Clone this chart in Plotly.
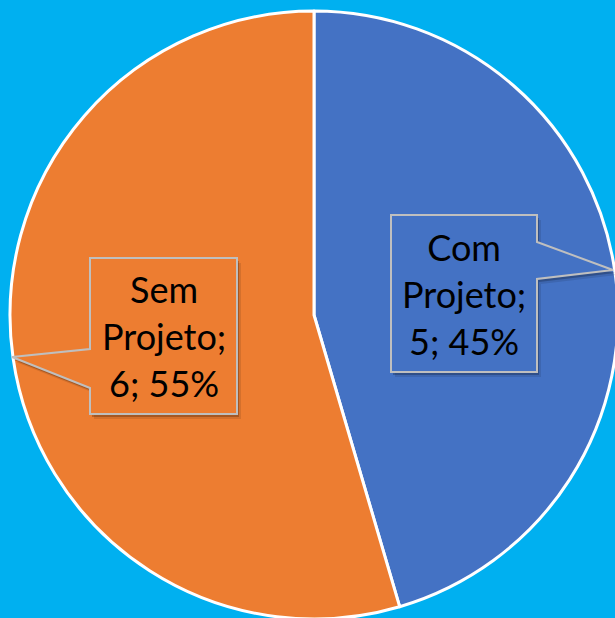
import plotly.graph_objects as go

labels = ["Com Projeto", "Sem Projeto"]
values = [5, 6]
colors = ["#4472C4", "#ED7D31"]
bg = "#00B0F0"

# figure is a little larger than the 615x618 window so the pie can run off the edges
W, H = 628, 630
CX, CY, R = 314, 315, 304  # pie centre / radius in window pixels
total = sum(values)
pcts = [round(v / total * 100) for v in values]

fig = go.Figure(go.Pie(
    labels=labels, values=values, sort=False, direction="clockwise", rotation=0,
    marker=dict(colors=colors, line=dict(color="white", width=3)),
    textinfo="none", hoverinfo="label+value+percent", showlegend=False,
    domain=dict(x=[(CX - R) / W, (CX + R) / W], y=[1 - (CY + R) / H, 1 - (CY - R) / H]),
))

def px(x, y):
    return x / W, 1 - y / H

def callout(box, tip_pts, fill):
    x0, y0, x1, y1 = box
    side, a, b, tip = tip_pts
    if side == "right":
        pts = [(x0, y0), (x1, y0), (x1, a), tip, (x1, b), (x1, y1), (x0, y1)]
    else:
        pts = [(x0, y0), (x1, y0), (x1, y1), (x0, y1), (x0, b), tip, (x0, a)]
    def path(dx=0, dy=0):
        s = ""
        for i, (x, y) in enumerate(pts):
            X, Y = px(x + dx, y + dy)
            s += ("M" if i == 0 else "L") + f"{X:.5f},{Y:.5f} "
        return s + "Z"
    fig.add_shape(type="path", path=path(4, 5), xref="paper", yref="paper",
                  fillcolor="rgba(0,0,0,0.10)", line=dict(width=0), layer="above")
    fig.add_shape(type="path", path=path(2, 3), xref="paper", yref="paper",
                  fillcolor="rgba(0,0,0,0.22)", line=dict(width=0), layer="above")
    fig.add_shape(type="path", path=path(), xref="paper", yref="paper",
                  fillcolor=fill, line=dict(color="#BFBFBF", width=2), layer="above")
    return px((x0 + x1) / 2, (y0 + y1) / 2)

boxes = [
    ((391, 215, 537, 372), ("right", 242, 279, (613, 270))),
    ((90, 258, 237, 414), ("left", 349, 388, (12, 357))),
]

for i in range(len(labels)):
    box, tip = boxes[i]
    cx, cy = callout(box, tip, colors[i])
    name = labels[i].replace(" ", "<br>") + ";"
    fig.add_annotation(x=cx, y=cy, xref="paper", yref="paper", showarrow=False,
                       text=f"{name}<br>{values[i]}; {pcts[i]}%",
                       font=dict(family="Lato", size=36, color="black"),
                       xanchor="center", yanchor="middle")

fig.update_layout(
    width=W, height=H, margin=dict(l=0, r=0, t=0, b=0),
    paper_bgcolor=bg, plot_bgcolor=bg,
)

post = (
    "document.documentElement.style.overflow='hidden';"
    "document.body.style.margin='0';"
    "document.body.style.overflow='hidden';"
    f"document.body.style.background='{bg}';"
)
fig.write_html("out.html", post_script=post, config={"displayModeBar": False})
